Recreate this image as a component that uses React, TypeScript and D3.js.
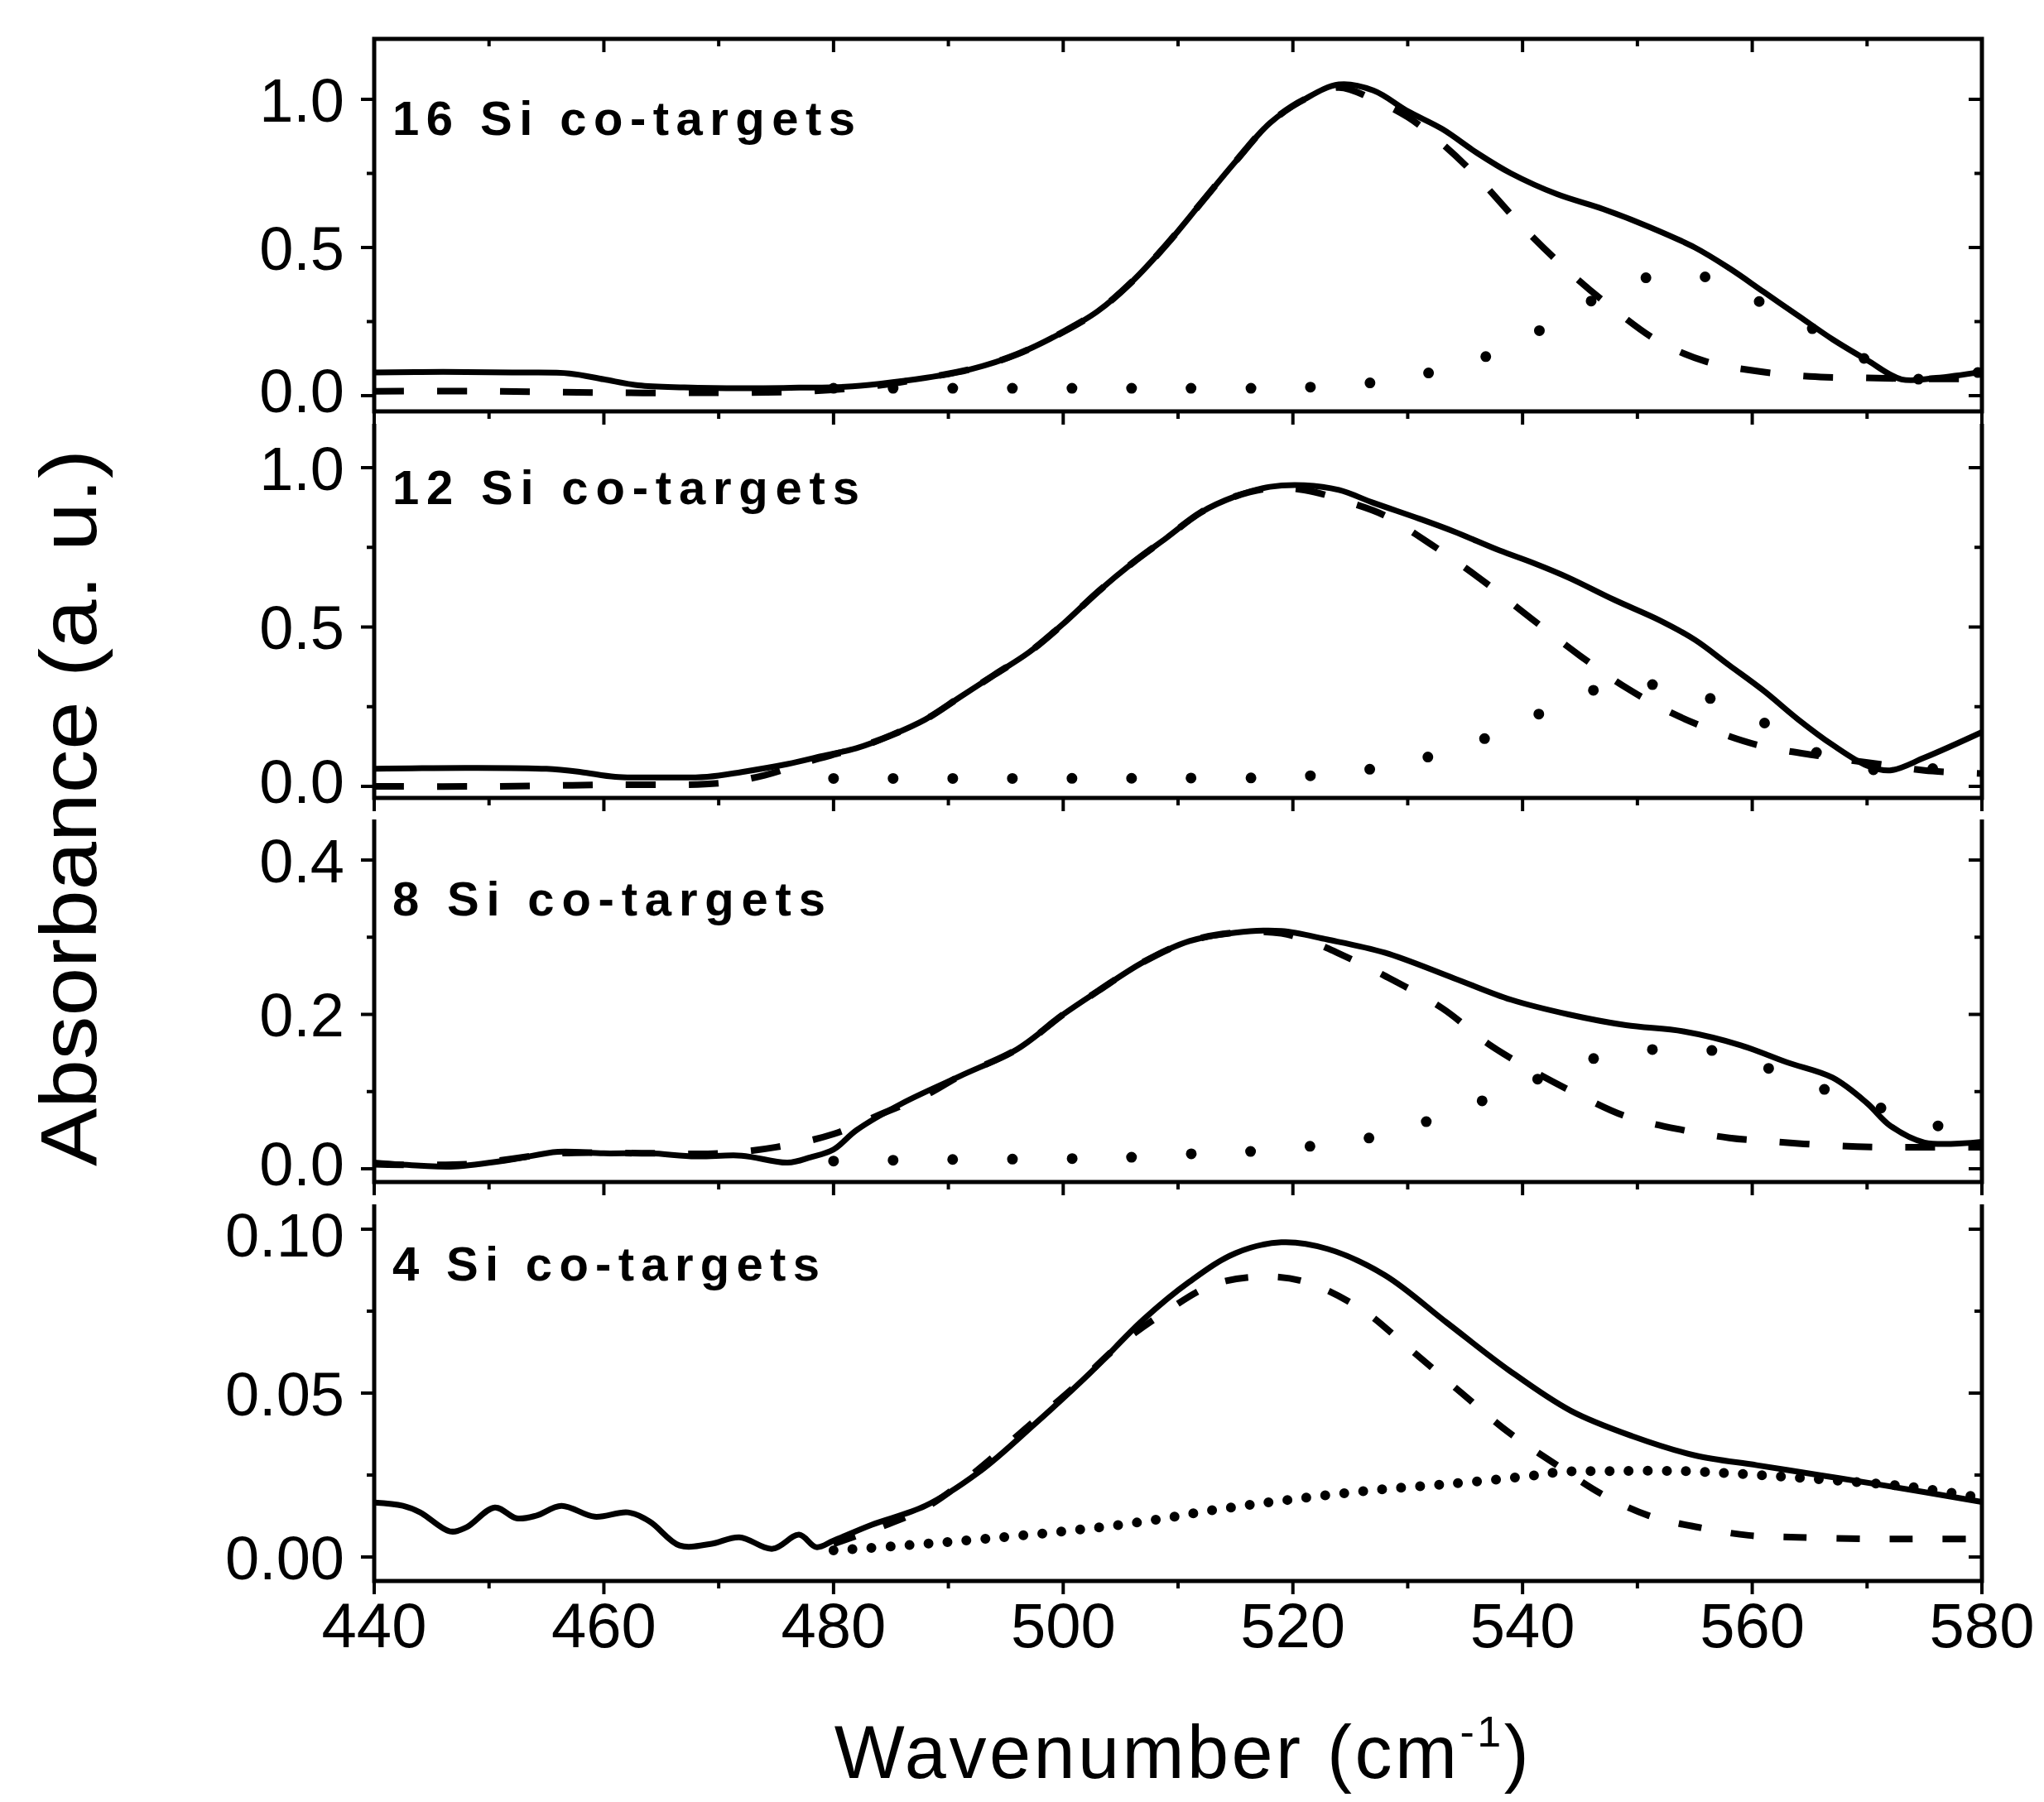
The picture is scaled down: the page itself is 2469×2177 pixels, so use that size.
import React, { useEffect, useRef } from "react";
import * as d3 from "d3";

// wavenumber axis (cm-1)
const wnTicks = [440, 460, 480, 500, 520, 540, 560, 580];
const panelLabels = ["16 Si co-targets", "12 Si co-targets", "8 Si co-targets", "4 Si co-targets"];

// y ticks per panel
const si16Major = [0, 0.5, 1.0];
const si16Minor = [0.25, 0.75];
const si12Major = [0, 0.5, 1.0];
const si12Minor = [0.25, 0.75];
const si8Major = [0, 0.2, 0.4];
const si8Minor = [0.1, 0.3];
const si4Major = [0, 0.05, 0.1];
const si4Minor = [0.025, 0.075];

// 16 Si co-targets: measured (solid), fit peak 1 (dashed), fit peak 2 (dotted)
const si16Solid: [number, number][] = [
  [440, 0.078], [446, 0.08], [452, 0.078], [457, 0.075], [460, 0.055], [463, 0.035], [467, 0.028],
  [472, 0.025], [477, 0.027], [481, 0.03], [484, 0.04], [488, 0.06], [492, 0.09], [496, 0.14],
  [500, 0.215], [503, 0.285], [506, 0.385], [509, 0.51], [512, 0.65], [515, 0.79], [518, 0.92],
  [521, 1.0], [524, 1.05], [527, 1.03], [530, 0.96], [533, 0.9], [536, 0.82], [539, 0.75],
  [543, 0.68], [547, 0.63], [551, 0.57], [555, 0.5], [558, 0.43], [561, 0.35], [564, 0.27],
  [567, 0.19], [570, 0.12], [573, 0.055], [576, 0.06], [580, 0.08],
];
const si16Dashed: [number, number][] = [
  [440, 0.015], [450, 0.015], [460, 0.01], [470, 0.01], [478, 0.015], [484, 0.035], [488, 0.06],
  [492, 0.09], [496, 0.14], [500, 0.215], [503, 0.285], [506, 0.385], [509, 0.51], [512, 0.65],
  [515, 0.79], [518, 0.92], [521, 1.0], [524, 1.04], [527, 1.0], [530, 0.94], [533, 0.85],
  [536, 0.74], [540, 0.57], [544, 0.42], [548, 0.29], [552, 0.18], [556, 0.115], [560, 0.085],
  [565, 0.065], [570, 0.06], [575, 0.057], [580, 0.057],
];
const si16Dotted: [number, number][] = [
  [480, 0.025], [490, 0.025], [500, 0.025], [510, 0.025], [520, 0.027], [526, 0.04], [531, 0.07],
  [536, 0.12], [541, 0.21], [546, 0.32], [551, 0.4], [556, 0.4], [561, 0.31], [566, 0.21],
  [570, 0.12], [573, 0.06], [576, 0.06], [580, 0.08],
];

// 12 Si co-targets
const si12Solid: [number, number][] = [
  [440, 0.055], [448, 0.058], [455, 0.055], [458, 0.045], [461, 0.03], [465, 0.028], [469, 0.03],
  [472, 0.045], [476, 0.07], [479, 0.095], [482, 0.12], [485, 0.16], [488, 0.21], [491, 0.28],
  [494, 0.35], [497, 0.42], [500, 0.51], [503, 0.61], [506, 0.7], [509, 0.78], [512, 0.86],
  [515, 0.91], [518, 0.94], [521, 0.945], [524, 0.93], [527, 0.89], [531, 0.84], [534, 0.8],
  [538, 0.74], [541, 0.7], [544, 0.655], [548, 0.585], [552, 0.52], [555, 0.46], [558, 0.38],
  [561, 0.3], [564, 0.21], [567, 0.13], [570, 0.065], [572, 0.05], [575, 0.09], [580, 0.17],
];
const si12Dashed: [number, number][] = [
  [440, 0.0], [450, 0.0], [460, 0.005], [470, 0.01], [474, 0.035], [478, 0.08], [482, 0.12],
  [485, 0.16], [488, 0.21], [491, 0.28], [494, 0.35], [497, 0.42], [500, 0.51], [503, 0.61],
  [506, 0.7], [509, 0.78], [512, 0.86], [515, 0.91], [518, 0.935], [521, 0.93], [525, 0.89],
  [528, 0.85], [532, 0.76], [536, 0.66], [541, 0.52], [545, 0.41], [549, 0.31], [553, 0.23],
  [557, 0.17], [561, 0.125], [566, 0.095], [571, 0.07], [575, 0.05], [580, 0.04],
];
const si12Dotted: [number, number][] = [
  [480, 0.025], [490, 0.025], [500, 0.025], [510, 0.026], [520, 0.03], [526, 0.05], [531, 0.085],
  [536, 0.14], [541, 0.22], [546, 0.3], [551, 0.32], [556, 0.28], [561, 0.2], [566, 0.1],
  [571, 0.05], [575, 0.055], [580, 0.06],
];

// 8 Si co-targets
const si8Solid: [number, number][] = [
  [440, 0.008], [444, 0.004], [447, 0.003], [452, 0.012], [456, 0.022], [460, 0.02], [464, 0.02],
  [468, 0.016], [472, 0.017], [476, 0.008], [478, 0.015], [480, 0.025], [482, 0.05], [486, 0.085],
  [491, 0.12], [496, 0.155], [500, 0.2], [503, 0.23], [507, 0.268], [511, 0.295], [515, 0.306],
  [519, 0.308], [523, 0.297], [528, 0.28], [534, 0.247], [539, 0.219], [544, 0.2], [549, 0.186],
  [554, 0.178], [559, 0.16], [563, 0.138], [567, 0.118], [570, 0.085], [572, 0.056], [575, 0.034],
  [580, 0.035],
];
const si8Dashed: [number, number][] = [
  [440, 0.006], [448, 0.006], [456, 0.02], [464, 0.02], [470, 0.02], [475, 0.028], [480, 0.045],
  [484, 0.07], [488, 0.095], [491, 0.12], [496, 0.155], [500, 0.2], [503, 0.23], [507, 0.268],
  [511, 0.295], [515, 0.306], [519, 0.305], [522, 0.292], [524, 0.279], [528, 0.25], [533, 0.208],
  [537, 0.162], [541, 0.126], [545, 0.095], [549, 0.068], [554, 0.05], [558, 0.04], [562, 0.035],
  [567, 0.03], [571, 0.028], [575, 0.028], [580, 0.028],
];
const si8Dotted: [number, number][] = [
  [480, 0.01], [490, 0.012], [500, 0.013], [506, 0.015], [512, 0.02], [517, 0.023], [522, 0.03],
  [527, 0.041], [532, 0.063], [537, 0.091], [542, 0.12], [547, 0.146], [552, 0.155], [557, 0.152],
  [562, 0.127], [567, 0.099], [572, 0.075], [577, 0.052], [580, 0.04],
];

// 4 Si co-targets
const si4Solid: [number, number][] = [
  [440, 0.0166], [442.5, 0.0156], [444, 0.0136], [446.6, 0.0078], [448, 0.009], [450.5, 0.0151],
  [452.4, 0.0118], [454.1, 0.0126], [456.3, 0.0156], [459.2, 0.0123], [462.1, 0.0136],
  [464, 0.0108], [466.6, 0.0035], [469.3, 0.004], [471.8, 0.006], [474.7, 0.0025], [477, 0.0068],
  [478.5, 0.003], [480, 0.005], [483.3, 0.0098], [488, 0.0156], [492.7, 0.026], [497.5, 0.0405],
  [502.3, 0.056], [507, 0.0725], [511, 0.084], [515, 0.0927], [519, 0.096], [523, 0.094],
  [528, 0.086], [533.4, 0.0715], [538.8, 0.057], [544.2, 0.0446], [549.6, 0.0368], [555, 0.031],
  [560.4, 0.028], [565.8, 0.025], [571.2, 0.022], [580, 0.0168],
];
const si4Dashed: [number, number][] = [
  [480, 0.004], [484, 0.009], [488, 0.015], [492, 0.025], [497, 0.04], [501, 0.052], [505, 0.065],
  [509, 0.075], [513, 0.083], [517, 0.0855], [521, 0.084], [526, 0.0755], [530, 0.064],
  [534.7, 0.05], [538.8, 0.038], [543, 0.028], [547, 0.019], [551, 0.0126], [555.7, 0.0088],
  [559.7, 0.0066], [564, 0.006], [570, 0.0055], [575, 0.0055], [580, 0.0055],
];
const si4Dotted: [number, number][] = [
  [480, 0.002], [486.5, 0.0036], [493, 0.0055], [500, 0.0078], [507, 0.0108], [513.6, 0.0146],
  [520, 0.0176], [527, 0.0204], [534, 0.0224], [540.6, 0.0247], [543.5, 0.026], [547, 0.0262],
  [554, 0.0262], [560.5, 0.025], [567, 0.0234], [574, 0.0213], [580, 0.018],
];

const panels = [
  { label: panelLabels[0], solid: si16Solid, dashed: si16Dashed, dotted: si16Dotted, major: si16Major, minor: si16Minor, fmt: ".1f" },
  { label: panelLabels[1], solid: si12Solid, dashed: si12Dashed, dotted: si12Dotted, major: si12Major, minor: si12Minor, fmt: ".1f" },
  { label: panelLabels[2], solid: si8Solid, dashed: si8Dashed, dotted: si8Dotted, major: si8Major, minor: si8Minor, fmt: ".1f" },
  { label: panelLabels[3], solid: si4Solid, dashed: si4Dashed, dotted: si4Dotted, major: si4Major, minor: si4Minor, fmt: ".2f" },
];

// layout of each panel (pixels): box edges, zero line, top major tick, label baseline
const boxes = [
  { top: 47, bottom: 497, y0: 478, yTop: 120, labelY: 163, labelW: 559, dotGap: 72, dash: "36 40" },
  { top: 512, bottom: 964, y0: 950, yTop: 565, labelY: 609, labelW: 564, dotGap: 72, dash: "36 40" },
  { top: 990, bottom: 1428, y0: 1412, yTop: 1039, labelY: 1106, labelW: 523, dotGap: 72, dash: "36 40" },
  { top: 1455, bottom: 1910, y0: 1881, yTop: 1485, labelY: 1547, labelW: 516, dotGap: 23, dash: "28 36" },
];

const W = 2469, H = 2177;
const left = 452, right = 2394;
const FONT = "'Liberation Sans', Arial, Helvetica, sans-serif";

const App = () => {
  const ref = useRef<SVGSVGElement>(null);

  useEffect(() => {
    document.body.style.margin = "0";
    const svg = d3.select(ref.current);
    svg.selectAll("*").remove();

    const x = d3.scaleLinear().domain([440, 580]).range([left, right]);
    const xAll = d3.range(440, 581, 10);

    panels.forEach((p, i) => {
      const b = boxes[i];
      const topVal = p.major[p.major.length - 1];
      const y = d3.scaleLinear().domain([0, topVal]).range([b.y0, b.yTop]);
      const g = svg.append("g");

      // frame: only the first panel is closed on top
      const frame = i === 0
        ? `M${left},${b.top}V${b.bottom}H${right}V${b.top}Z`
        : `M${left},${b.top}V${b.bottom}H${right}V${b.top}`;
      g.append("path").attr("d", frame)
        .attr("fill", "none").attr("stroke", "#000").attr("stroke-width", 5)
        .attr("stroke-linejoin", "miter");

      // x ticks: outward under each panel, inward under the top edge of the first
      xAll.forEach((v) => {
        const len = v % 20 === 0 ? 16 : 9;
        if (i === 0) {
          g.append("line").attr("x1", x(v)).attr("x2", x(v))
            .attr("y1", b.top).attr("y2", b.top + len)
            .attr("stroke", "#000").attr("stroke-width", 4);
        }
        g.append("line").attr("x1", x(v)).attr("x2", x(v))
          .attr("y1", b.bottom).attr("y2", b.bottom + len)
          .attr("stroke", "#000").attr("stroke-width", 4);
      });

      // y ticks
      const yt = [...p.major.map((v) => [v, 16]), ...p.minor.map((v) => [v, 9])];
      yt.forEach(([v, len]) => {
        g.append("line").attr("x1", left - len).attr("x2", left)
          .attr("y1", y(v)).attr("y2", y(v))
          .attr("stroke", "#000").attr("stroke-width", 4);
        g.append("line").attr("x1", right - len).attr("x2", right)
          .attr("y1", y(v)).attr("y2", y(v))
          .attr("stroke", "#000").attr("stroke-width", 4);
      });

      // keep neighbouring panels' labels apart: nudge the lowest up, the topmost of the last panel down
      const nudge = (d: number) => {
        if (d === 0 && i < 3) return -7;
        if (d === topVal && i === 3) return 6;
        return 0;
      };
      g.selectAll(".ylab")
        .data(p.major)
        .enter()
        .append("text")
        .attr("x", left - 36)
        .attr("y", (d) => y(d) + nudge(d))
        .attr("dy", "0.36em")
        .attr("text-anchor", "end")
        .attr("font-family", FONT)
        .attr("font-size", 74)
        .text((d) => d3.format(p.fmt)(d));

      // panel label
      g.append("text")
        .attr("x", left + 22)
        .attr("y", b.labelY)
        .attr("font-family", FONT)
        .attr("font-weight", "bold")
        .attr("font-size", 58)
        .attr("textLength", b.labelW)
        .attr("lengthAdjust", "spacing")
        .text(p.label);

      const line = d3.line<[number, number]>()
        .x((d) => x(d[0]))
        .y((d) => y(d[1]))
        .curve(d3.curveCatmullRom.alpha(0.5));

      g.append("path").datum(p.dotted)
        .attr("fill", "none").attr("stroke", "#000")
        .attr("stroke-width", i === 3 ? 12 : 13)
        .attr("stroke-linecap", "round")
        .attr("stroke-dasharray", `0 ${b.dotGap}`)
        .attr("d", line);

      g.append("path").datum(p.dashed)
        .attr("fill", "none").attr("stroke", "#000")
        .attr("stroke-width", 8)
        .attr("stroke-dasharray", b.dash)
        .attr("d", line);

      g.append("path").datum(p.solid)
        .attr("fill", "none").attr("stroke", "#000")
        .attr("stroke-width", 7)
        .attr("stroke-linejoin", "round")
        .attr("d", line);
    });

    // x tick labels under bottom panel
    svg.selectAll(".xlab")
      .data(wnTicks)
      .enter()
      .append("text")
      .attr("x", (d) => x(d))
      .attr("y", 1990)
      .attr("text-anchor", "middle")
      .attr("font-family", FONT)
      .attr("font-size", 76)
      .text((d) => d);

    // axis titles
    const xt = svg.append("text")
      .attr("x", 1429)
      .attr("y", 2148)
      .attr("text-anchor", "middle")
      .attr("font-family", FONT)
      .attr("font-size", 90)
      .attr("letter-spacing", 3.5);
    xt.append("tspan").text("Wavenumber (cm");
    xt.append("tspan").attr("font-size", 52).attr("dy", -38).text("-1");
    xt.append("tspan").attr("dy", 38).text(")");

    svg.append("text")
      .attr("transform", "translate(116,976) rotate(-90)")
      .attr("text-anchor", "middle")
      .attr("font-family", FONT)
      .attr("font-size", 96)
      .attr("textLength", 866)
      .attr("lengthAdjust", "spacingAndGlyphs")
      .text("Absorbance (a. u.)");
  }, []);

  return <svg ref={ref} width={W} height={H} style={{ display: "block", background: "#fff" }} />;
};

export default App;
